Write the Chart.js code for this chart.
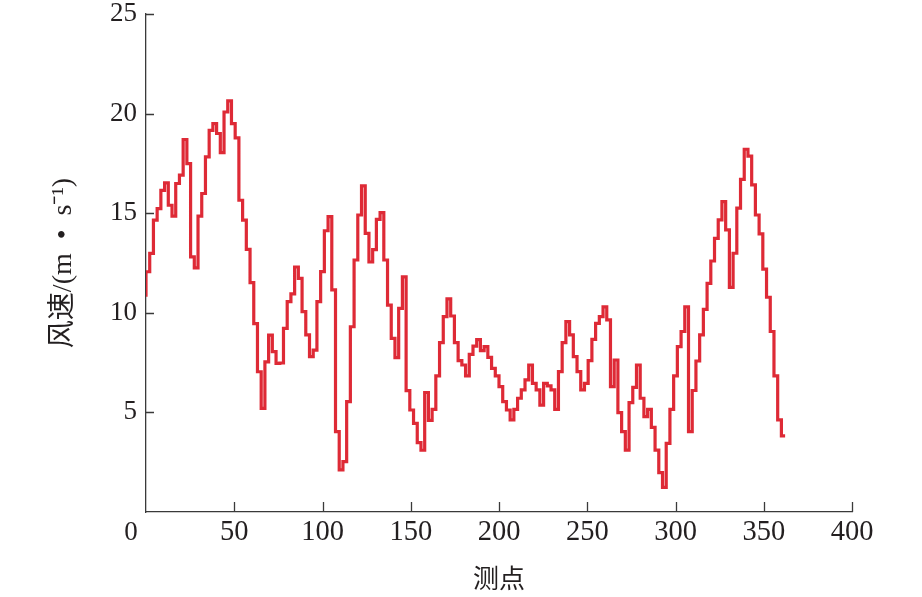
<!DOCTYPE html>
<html>
<head>
<meta charset="utf-8">
<script src="https://cdn.jsdelivr.net/npm/chart.js@4.4.1/dist/chart.umd.min.js"></script>
<style>
    html, body { margin: 0; padding: 0; background: #fff; }
    #wrap { width: 922px; height: 597px; }
</style>
</head>
<body>
<div id="wrap"><canvas id="windChart"></canvas></div>
<script>
// Wind speed, one value per step
const windSpeed = [
    10.8, 12.06, 12.98, 14.65, 15.23, 16.15, 16.52, 15.40, 14.85, 16.49,
    16.91, 18.7, 17.49, 12.81, 12.26, 14.85, 15.99, 17.83, 19.16, 19.5,
    19.0, 18.04, 20.08, 20.64, 19.5, 18.78, 15.65, 14.65, 13.18, 11.51,
    9.46, 7.04, 5.2, 7.54, 8.88, 8.05, 7.46, 7.48, 9.22, 10.56,
    10.95, 12.3, 11.73, 10.06, 8.89, 7.8, 8.13, 10.56, 12.07, 14.12,
    14.83, 11.15, 4.03, 2.11, 2.53, 5.54, 9.3, 12.65, 14.91, 16.37,
    13.99, 12.55, 13.17, 14.69, 15.03, 12.65, 10.39, 8.72, 7.75, 10.22,
    11.8, 6.09, 5.12, 4.45, 3.48, 3.1, 6.0, 4.6, 5.15, 6.83,
    8.5, 9.81, 10.7, 9.84, 8.5, 7.6, 7.38, 6.83, 7.91, 8.33,
    8.65, 8.1, 8.3, 7.76, 7.21, 6.83, 6.29, 5.54, 5.12, 4.62,
    5.15, 5.71, 6.13, 6.63, 7.38, 6.46, 6.13, 5.37, 6.46, 6.33,
    6.13, 5.15, 7.05, 8.5, 9.56, 8.89, 7.8, 7.05, 6.13, 6.46,
    7.6, 8.67, 9.47, 9.81, 10.3, 9.64, 6.29, 7.63, 4.99, 4.03,
    3.11, 5.49, 6.26, 7.38, 5.71, 4.79, 5.15, 4.25, 3.11, 1.98,
    1.24, 3.45, 5.15, 6.83, 8.3, 9.06, 10.3, 4.03, 6.1, 7.58,
    8.89, 10.17, 11.48, 12.6, 13.74, 14.66, 15.58, 14.16, 11.28, 12.99,
    15.25, 16.7, 18.21, 17.87, 16.42, 14.91, 13.96, 12.19, 10.78, 9.06,
    6.83, 4.62, 3.82
];
// measuring points: last step lands on 360
const pointStep = 360 / 171;
const xTicks = [0, 50, 100, 150, 200, 250, 300, 350, 400];
const yTicks = [0, 5, 10, 15, 20, 25];

const xTitle = '测点';
const yTitle = '风速/(m  •  s⁻¹)';

const serif = '"Liberation Serif", "Times New Roman", "Noto Sans CJK SC", serif';
const axisColor = '#3a3a3a';
const textColor = '#231f20';

// inward tick marks and the shared "0" at the corner
const innerTicks = {
    id: 'innerTicks',
    afterDraw(chart) {
        const c = chart.ctx;
        const xs = chart.scales.x, ys = chart.scales.y;
        const area = chart.chartArea;
        c.save();
        c.strokeStyle = axisColor;
        c.lineWidth = 1.3;
        c.beginPath();
        xTicks.forEach(v => {
            if (v === 0) return;
            const px = Math.round(xs.getPixelForValue(v)) + 0.5;
            c.moveTo(px, area.bottom);
            c.lineTo(px, area.bottom - 10);
        });
        yTicks.forEach(v => {
            if (v === 0) return;
            const py = Math.round(ys.getPixelForValue(v)) + 0.5;
            c.moveTo(area.left, py);
            c.lineTo(area.left + 8, py);
        });
        c.stroke();
        c.fillStyle = textColor;
        c.font = '27px ' + serif;
        c.textAlign = 'center';
        c.textBaseline = 'middle';
        c.fillText('0', area.left - 15, area.bottom + 21);
        c.restore();
    }
};

const ctx = document.getElementById('windChart').getContext('2d');
const windChart = new Chart(ctx, {
    type: 'line',
    data: {
        datasets: [{
            label: yTitle,
            data: windSpeed.map((v, i) => ({ x: i * pointStep, y: v })),
            stepped: 'after',
            borderColor: '#de2a36',
            borderWidth: 3.2,
            borderCapStyle: 'butt',
            borderJoinStyle: 'miter',
            pointRadius: 0,
            fill: false
        }]
    },
    options: {
        responsive: true,
        maintainAspectRatio: false,
        animation: false,
        layout: { padding: { left: 40, top: 14, right: 70, bottom: 0 } },
        scales: {
            x: {
                type: 'linear',
                min: 0,
                max: 400,
                afterBuildTicks: s => { s.ticks = xTicks.map(v => ({ value: v })); },
                afterFit: s => {
                    s.height = 85;
                    s.paddingLeft = 0;
                    s.paddingRight = 0;
                },
                grid: { display: false, drawTicks: false },
                border: { display: true, color: axisColor, width: 1.3 },
                ticks: {
                    padding: 6,
                    color: textColor,
                    font: { family: serif, size: 28.5, lineHeight: 1 },
                    maxRotation: 0,
                    callback: v => v === 0 ? '' : v
                },
                title: {
                    display: true,
                    text: xTitle,
                    color: textColor,
                    font: { family: serif, size: 26 },
                    padding: { top: 0, bottom: 0 }
                }
            },
            y: {
                min: 0,
                max: 25,
                afterBuildTicks: s => { s.ticks = yTicks.map(v => ({ value: v })); },
                afterFit: s => {
                    s.width = 106;
                    s.paddingTop = 0;
                    s.paddingBottom = 0;
                },
                grid: { display: false, drawTicks: false },
                border: { display: true, color: axisColor, width: 1.3 },
                ticks: {
                    padding: 9,
                    color: textColor,
                    font: { family: serif, size: 27, lineHeight: 1 },
                    callback: v => v === 0 ? '' : v
                },
                title: {
                    display: true,
                    text: yTitle,
                    color: textColor,
                    font: { family: serif, size: 28 },
                    padding: { top: 7, bottom: 0 }
                }
            }
        },
        plugins: {
            legend: { display: false },
            tooltip: { enabled: false }
        }
    },
    plugins: [innerTicks]
});
</script>
</body>
</html>
